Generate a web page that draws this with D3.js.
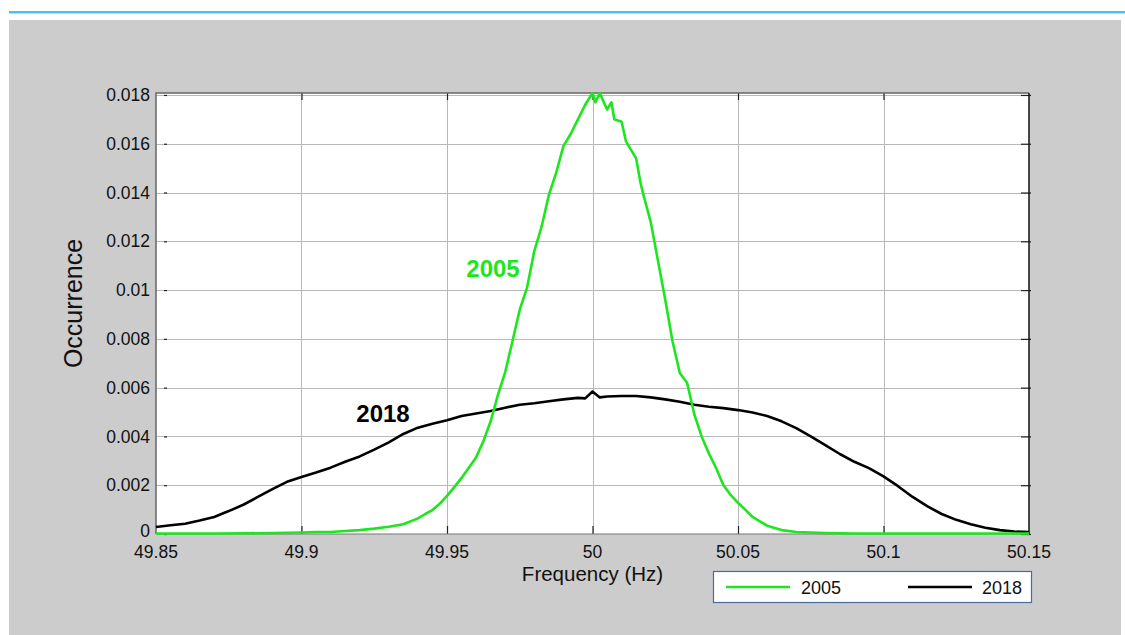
<!DOCTYPE html>
<html>
<head>
<meta charset="utf-8">
<script src="https://cdn.jsdelivr.net/npm/d3@7/dist/d3.min.js"></script>
<style>
  html, body { margin: 0; padding: 0; background: #ffffff; }
  svg { display: block; }
  text { font-family: "Liberation Sans", Arial, sans-serif; }
</style>
</head>
<body>
<svg id="chart" width="1125" height="635"></svg>
<script>
// Frequency histogram of grid frequency, 2005 vs 2018
const xTicks = [49.85, 49.9, 49.95, 50, 50.05, 50.1, 50.15];
const xTickLabels = ["49.85", "49.9", "49.95", "50", "50.05", "50.1", "50.15"];
const yTicks = [0, 0.002, 0.004, 0.006, 0.008, 0.01, 0.012, 0.014, 0.016, 0.018];
const yTickLabels = ["0", "0.002", "0.004", "0.006", "0.008", "0.01", "0.012", "0.014", "0.016", "0.018"];

const seriesNames = ["2005", "2018"];

const freq2005 = [
  49.850, 49.860, 49.870, 49.880, 49.890, 49.900, 49.905, 49.910, 49.915, 49.920,
  49.925, 49.930, 49.935, 49.940, 49.9425, 49.945, 49.9475, 49.950, 49.9525, 49.955,
  49.9575, 49.960, 49.9625, 49.965, 49.9675, 49.970, 49.9725, 49.975, 49.9775, 49.980,
  49.9825, 49.985, 49.9875, 49.990, 49.9925, 49.995, 49.9975, 50.000, 50.001, 50.0025,
  50.005, 50.0065, 50.0075, 50.010, 50.0115, 50.0135, 50.015, 50.0165, 50.0175, 50.020,
  50.0225, 50.025, 50.0275, 50.030, 50.0325, 50.035, 50.0375, 50.040, 50.0425, 50.045,
  50.0475, 50.050, 50.0525, 50.055, 50.0575, 50.060, 50.065, 50.070, 50.080, 50.090,
  50.100, 50.120, 50.150
];
const occ2005 = [
  0.00002, 0.00002, 0.00002, 0.00003, 0.00004, 0.00006, 0.00008, 0.00008, 0.00012, 0.00016,
  0.00022, 0.00030, 0.00040, 0.00064, 0.00082, 0.00098, 0.00124, 0.00156, 0.00192, 0.00230,
  0.00272, 0.00314, 0.00380, 0.00462, 0.00570, 0.00664, 0.00790, 0.00920, 0.01010, 0.01160,
  0.01260, 0.01390, 0.01480, 0.01590, 0.01640, 0.01700, 0.01760, 0.01808, 0.01770, 0.01808,
  0.01740, 0.01770, 0.01700, 0.01690, 0.01610, 0.01570, 0.01540, 0.01440, 0.01390, 0.01280,
  0.01120, 0.00960, 0.00790, 0.00660, 0.00620, 0.00490, 0.00400, 0.00330, 0.00270, 0.00200,
  0.00160, 0.00128, 0.00100, 0.00070, 0.00052, 0.00034, 0.00016, 0.00008, 0.00004, 0.00002,
  0.00002, 0.00002, 0.00002
];

const freq2018 = [
  49.850, 49.855, 49.860, 49.865, 49.870, 49.875, 49.880, 49.885, 49.890, 49.895,
  49.900, 49.905, 49.910, 49.915, 49.920, 49.925, 49.930, 49.935, 49.940, 49.945,
  49.950, 49.955, 49.960, 49.965, 49.970, 49.975, 49.980, 49.985, 49.990, 49.995,
  49.9975, 50.000, 50.0025, 50.005, 50.010, 50.015, 50.020, 50.025, 50.030, 50.035,
  50.040, 50.045, 50.050, 50.055, 50.060, 50.065, 50.070, 50.075, 50.080, 50.085,
  50.090, 50.095, 50.100, 50.105, 50.110, 50.115, 50.120, 50.125, 50.130, 50.135,
  50.140, 50.145, 50.150
];
const occ2018 = [
  0.00029, 0.00036, 0.00042, 0.00055, 0.00070, 0.00094, 0.00120, 0.00152, 0.00184, 0.00214,
  0.00234, 0.00252, 0.00272, 0.00296, 0.00318, 0.00346, 0.00376, 0.00410, 0.00436, 0.00452,
  0.00466, 0.00484, 0.00494, 0.00504, 0.00518, 0.00530, 0.00536, 0.00544, 0.00552, 0.00558,
  0.00556, 0.00584, 0.00560, 0.00564, 0.00566, 0.00566, 0.00560, 0.00552, 0.00542, 0.00530,
  0.00522, 0.00516, 0.00508, 0.00498, 0.00484, 0.00462, 0.00434, 0.00400, 0.00364, 0.00328,
  0.00296, 0.00270, 0.00236, 0.00196, 0.00152, 0.00114, 0.00082, 0.00058, 0.00040, 0.00026,
  0.00016, 0.00010, 0.00008
];

const svg = d3.select("#chart");

// page decoration: accent rule and grey panel
svg.append("rect").attr("x", 9).attr("y", 11).attr("width", 1116).attr("height", 2.5).attr("fill", "#46c3ee");
svg.append("rect").attr("x", 9).attr("y", 20).attr("width", 1112).attr("height", 615).attr("fill", "#cccccc");

const plot = { left: 156, right: 1029, top: 93, bottom: 534 };
const x = d3.scaleLinear().domain([49.85, 50.15]).range([plot.left, plot.right]);
const y = d3.scaleLinear().domain([0, 0.01808]).range([plot.bottom, plot.top]);

svg.append("rect")
  .attr("x", plot.left).attr("y", plot.top)
  .attr("width", plot.right - plot.left).attr("height", plot.bottom - plot.top)
  .attr("fill", "#ffffff");

// grid
const grid = svg.append("g").attr("stroke", "#b8b8b8").attr("stroke-width", 1);
grid.selectAll("line.v").data(xTicks.slice(1, -1)).join("line")
  .attr("x1", d => Math.round(x(d)) + 0.5).attr("x2", d => Math.round(x(d)) + 0.5)
  .attr("y1", plot.top).attr("y2", plot.bottom);
grid.selectAll("line.h").data(yTicks.slice(1)).join("line")
  .attr("y1", d => Math.round(y(d)) + 0.5).attr("y2", d => Math.round(y(d)) + 0.5)
  .attr("x1", plot.left).attr("x2", plot.right);

// axes with inward ticks
const axisStyle = g => {
  g.select(".domain").remove();
  g.selectAll(".tick line").attr("stroke", "#222").attr("stroke-width", 1.2);
};
svg.append("g").attr("transform", `translate(${plot.left + 8},0)`)
  .call(d3.axisRight(y).tickValues(yTicks).tickSize(3).tickFormat(""))
  .call(axisStyle);
svg.append("g").attr("transform", `translate(${plot.right - 8},0)`)
  .call(d3.axisRight(y).tickValues(yTicks).tickSize(10).tickFormat(""))
  .call(axisStyle);
svg.append("g").attr("transform", `translate(0,${plot.bottom})`)
  .call(d3.axisTop(x).tickValues(xTicks.slice(1, -1)).tickSize(8).tickFormat(""))
  .call(axisStyle);
svg.append("g").attr("transform", `translate(0,${plot.top})`)
  .call(d3.axisBottom(x).tickValues(xTicks.slice(1, -1)).tickSize(7).tickFormat(""))
  .call(axisStyle);

// tick labels (the zero label sits a touch high to clear the x labels)
svg.append("g").selectAll("text").data(yTicks).join("text")
  .attr("x", plot.left - 6).attr("y", d => d === 0 ? y(d) - 3 : y(d)).attr("dy", "0.35em")
  .attr("text-anchor", "end").attr("font-size", 17.5).attr("fill", "#111")
  .text((d, i) => yTickLabels[i]);
svg.append("g").selectAll("text").data(xTicks).join("text")
  .attr("x", d => x(d)).attr("y", plot.bottom + 24)
  .attr("text-anchor", "middle").attr("font-size", 17.5).attr("fill", "#111")
  .text((d, i) => xTickLabels[i]);

// frame
svg.append("path")
  .attr("d", `M${plot.left},${plot.bottom}V${plot.top}H${plot.right}`)
  .attr("fill", "none").attr("stroke", "#666").attr("stroke-width", 1.5);
svg.append("line")
  .attr("x1", plot.right).attr("x2", plot.right).attr("y1", plot.top).attr("y2", plot.bottom)
  .attr("stroke", "#111").attr("stroke-width", 1.5);
svg.append("line")
  .attr("x1", plot.left).attr("x2", plot.right).attr("y1", plot.bottom).attr("y2", plot.bottom)
  .attr("stroke", "#777").attr("stroke-width", 1.2);

// axis titles
svg.append("text")
  .attr("x", x(50)).attr("y", plot.bottom + 47)
  .attr("text-anchor", "middle").attr("font-size", 20.5).attr("fill", "#111")
  .text("Frequency (Hz)");
svg.append("text")
  .attr("transform", `translate(82,${(plot.top + plot.bottom) / 2 - 10}) rotate(-90)`)
  .attr("text-anchor", "middle").attr("font-size", 25).attr("fill", "#111")
  .text("Occurrence");

// series lines
const line = d3.line().x(d => x(d[0])).y(d => y(d[1]));
const colors = { "2005": "#1ee61e", "2018": "#000000" };
const series = [
  { name: seriesNames[1], pts: d3.zip(freq2018, occ2018) },
  { name: seriesNames[0], pts: d3.zip(freq2005, occ2005) }
];
svg.append("g").selectAll("path").data(series).join("path")
  .attr("d", d => line(d.pts))
  .attr("fill", "none")
  .attr("stroke", d => colors[d.name])
  .attr("stroke-width", 2.6)
  .attr("stroke-linejoin", "round");

// in-plot labels
svg.append("text")
  .attr("x", 493).attr("y", 276.5).attr("text-anchor", "middle")
  .attr("font-size", 24).attr("font-weight", "bold").attr("fill", colors["2005"])
  .text(seriesNames[0]);
svg.append("text")
  .attr("x", 383).attr("y", 421.5).attr("text-anchor", "middle")
  .attr("font-size", 24).attr("font-weight", "bold").attr("fill", colors["2018"])
  .text(seriesNames[1]);

// legend
const legend = svg.append("g");
legend.append("rect")
  .attr("x", 713.5).attr("y", 571.5).attr("width", 318).attr("height", 31)
  .attr("fill", "#ffffff").attr("stroke", "#4a6a9c").attr("stroke-width", 1.2);
const legendItems = [
  { name: seriesNames[0], x0: 726, x1: 790, tx: 801 },
  { name: seriesNames[1], x0: 908, x1: 972, tx: 982 }
];
legend.selectAll("line").data(legendItems).join("line")
  .attr("x1", d => d.x0).attr("x2", d => d.x1).attr("y1", 587).attr("y2", 587)
  .attr("stroke", d => colors[d.name]).attr("stroke-width", 2.6);
legend.selectAll("text").data(legendItems).join("text")
  .attr("x", d => d.tx).attr("y", 593.5).attr("font-size", 18).attr("fill", "#111")
  .text(d => d.name);
</script>
</body>
</html>
